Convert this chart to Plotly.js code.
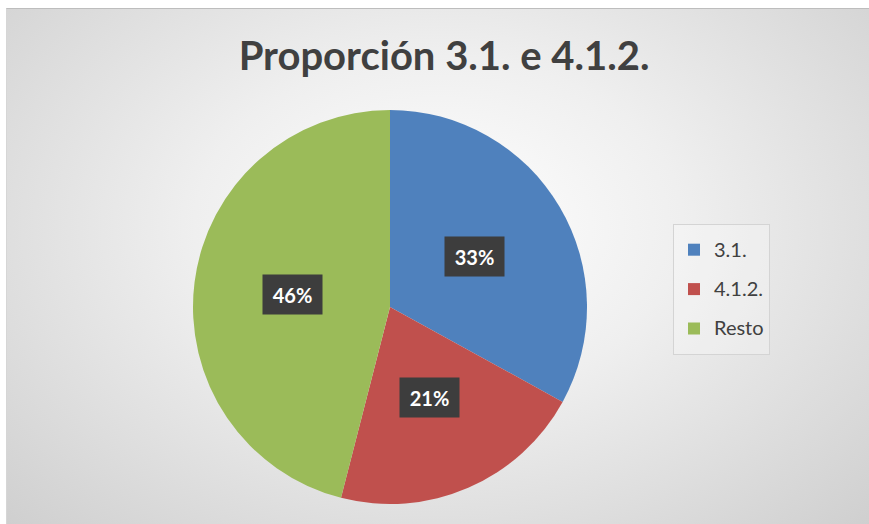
<!DOCTYPE html>
<html lang="es">
<head>
    <meta charset="UTF-8">
    <title>Proporción 3.1. e 4.1.2.</title>
    <script src="https://cdn.plot.ly/plotly-3.0.1.min.js"></script>
    <style>
        html, body { margin: 0; padding: 0; background: #ffffff; }
        #bg {
            position: absolute; left: 6px; top: 8px; width: 863px; height: 516px;
            border-top: 1px solid #bdbdbd; border-left: 1px solid #d6d6d6;
            background: radial-gradient(ellipse farthest-corner at 50% 42%, #ffffff 0%, #efefef 40%, #cfcfcf 100%);
        }
        #chart { position: absolute; left: 0; top: 0; width: 869px; height: 524px; }
        /* centra el texto de la leyenda con el símbolo */
        g.legend text.legendtext { transform: translateY(-4px); }
    </style>
</head>
<body>
    <div id="bg"></div>
    <div id="chart"></div>

    <script>
        // datos
        const labels = ['3.1.', '4.1.2.', 'Resto'];
        const values = [33, 21, 46];
        const colors = ['#4F81BD', '#C0504D', '#9BBB59'];

        const W = 869, H = 524;
        const cx = 390, cy = 307, R = 197;   // centro y radio del círculo en píxeles

        const total = values.reduce((a, b) => a + b, 0);

        // etiquetas con caja oscura, en el centro de cada sector
        const annotations = [];
        let acc = 0;
        values.forEach(v => {
            const mid = (acc + v / 2) / total * 2 * Math.PI;
            acc += v;
            const px = cx + 0.5 * R * Math.sin(mid);
            const py = cy - 0.5 * R * Math.cos(mid);
            annotations.push({
                x: px / W, y: 1 - py / H, xref: 'paper', yref: 'paper',
                xanchor: 'center', yanchor: 'middle',
                text: '<b>' + Math.round(v / total * 100) + '%</b>',
                showarrow: false,
                font: { family: 'Lato, sans-serif', size: 20, color: '#ffffff' },
                bgcolor: '#3d3d3d', width: 51, height: 31, borderpad: 4
            });
        });

        // texto de la leyenda más pequeño que el alto de cada fila
        const legendLabels = labels.map(l => '<span style="font-size:20px">' + l + '</span>');

        const trace = {
            type: 'pie',
            labels: legendLabels,
            values: values,
            customdata: labels,
            sort: false,
            direction: 'clockwise',
            rotation: 0,
            textinfo: 'none',
            hovertemplate: '%{customdata}: %{percent}<extra></extra>',
            marker: { colors: colors, line: { width: 0 } },
            domain: {
                x: [(cx - R) / W, (cx + R) / W],
                y: [1 - (cy + R) / H, 1 - (cy - R) / H]
            }
        };

        const layout = {
            width: W, height: H,
            margin: { l: 0, r: 0, t: 0, b: 0 },
            paper_bgcolor: 'rgba(0,0,0,0)',
            plot_bgcolor: 'rgba(0,0,0,0)',
            title: {
                text: '<b>Proporción 3.1. e 4.1.2.</b>',
                font: { family: 'Lato, sans-serif', size: 40, color: '#404040' },
                x: 0.511, xanchor: 'center',
                y: 1 - 56 / H, yanchor: 'middle'
            },
            showlegend: true,
            legend: {
                x: 673 / W, xanchor: 'left',
                y: 1 - 224 / H, yanchor: 'top',
                bgcolor: 'rgba(255,255,255,0.25)',
                bordercolor: '#d4d4d4', borderwidth: 1,
                font: { family: 'Lato, sans-serif', size: 28, color: '#404040' }
            },
            annotations: annotations
        };

        Plotly.newPlot('chart', [trace], layout, { displayModeBar: false });
    </script>
</body>
</html>
